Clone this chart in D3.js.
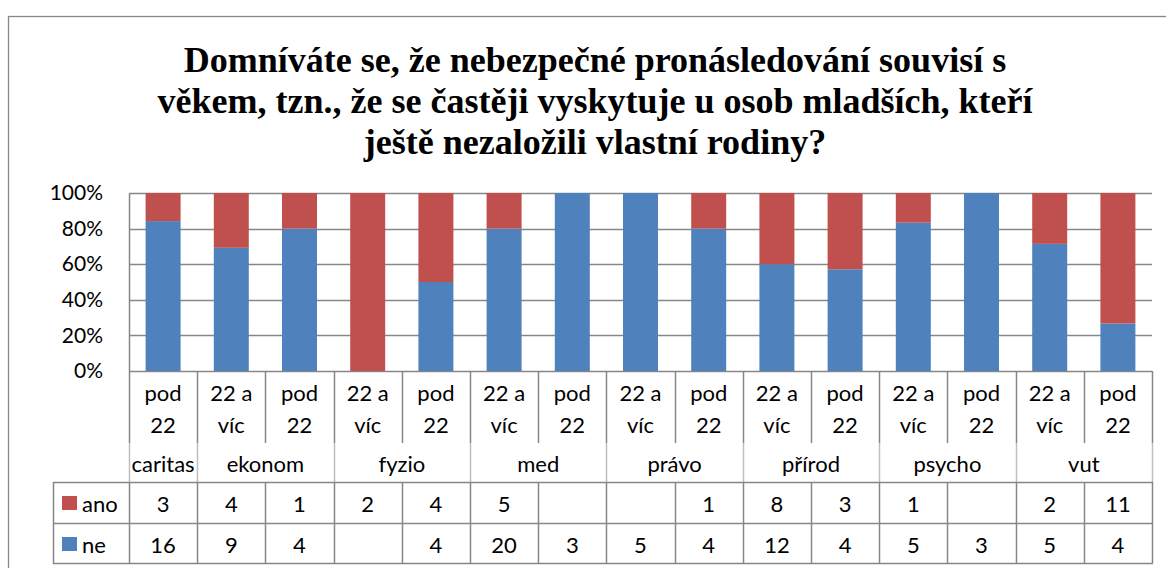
<!DOCTYPE html>
<html>
<head>
<meta charset="utf-8">
<script src="https://cdn.jsdelivr.net/npm/d3@7"></script>
<style>
  html, body { margin: 0; padding: 0; background: #fff; }
  svg { display: block; }
</style>
</head>
<body>
<svg id="chart" width="1166" height="568"></svg>
<script>
// ---- data ----
const titleLines = [
  "Domníváte se, že nebezpečné pronásledování souvisí s",
  "věkem, tzn., že se častěji vyskytuje u osob mladších, kteří",
  "ještě nezaložili vlastní rodiny?"
];
const groups = ["caritas", "ekonom", "fyzio", "med", "právo", "přírod", "psycho", "vut"];
const barGroup = ["caritas", "ekonom", "ekonom", "fyzio", "fyzio", "med", "med", "právo", "právo", "přírod", "přírod", "psycho", "psycho", "vut", "vut"];
const subLabels = ["pod 22", "22 a víc", "pod 22", "22 a víc", "pod 22", "22 a víc", "pod 22", "22 a víc", "pod 22", "22 a víc", "pod 22", "22 a víc", "pod 22", "22 a víc", "pod 22"];
const seriesNames = ["ano", "ne"];
const ano = [3, 4, 1, 2, 4, 5, null, null, 1, 8, 3, 1, null, 2, 11];
const ne  = [16, 9, 4, null, 4, 20, 3, 5, 4, 12, 4, 5, 3, 5, 4];
const yTicks = [0, 0.2, 0.4, 0.6, 0.8, 1.0];
const yTickLabels = ["0%", "20%", "40%", "60%", "80%", "100%"];
const colors = { ano: "#C0504D", ne: "#4F81BD" };

// ---- layout ----
const svg = d3.select("#chart");
const L = 129, R = 1152, T = 193, B = 371;
const gridColor = "#878787";
const lightLine = "#BFBFBF";
const fontSans = "Lato, 'Open Sans', sans-serif";

// outer border
svg.append("rect").attr("x", 8.5).attr("y", 16.5).attr("width", 1200).attr("height", 600)
  .attr("fill", "#fff").attr("stroke", gridColor).attr("stroke-width", 1.3);

// title
svg.append("g").selectAll("text").data(titleLines).join("text")
  .attr("x", 595).attr("y", (d, i) => 72 + i * 41)
  .attr("text-anchor", "middle")
  .attr("font-family", "'Liberation Serif', 'Times New Roman', serif")
  .attr("font-weight", "bold").attr("font-size", 36).attr("fill", "#000")
  .text(d => d);

const idx = d3.range(ano.length);
const x = d3.scaleBand().domain(idx).range([L, R]).paddingInner(0.487).paddingOuter(0.2435);
const step = x.step();
const y = d3.scaleLinear().domain([0, 1]).range([B, T]);

// gridlines
svg.append("g").selectAll("line").data(yTicks).join("line")
  .attr("x1", L).attr("x2", R).attr("y1", d => Math.round(y(d)) + 0.5).attr("y2", d => Math.round(y(d)) + 0.5)
  .attr("stroke", gridColor).attr("stroke-width", 1.5);

// y axis
const yAxis = d3.axisLeft(y).tickValues(yTicks).tickFormat((d, i) => yTickLabels[i]).tickSize(0).tickPadding(26);
const yg = svg.append("g").attr("transform", `translate(${L},0)`).call(yAxis);
yg.select(".domain").attr("stroke", gridColor).attr("stroke-width", 1.5);
yg.selectAll("text").attr("font-family", fontSans).attr("font-size", 21).attr("fill", "#000");

// stacked percentage bars
const rows = idx.map(i => ({ i, ne: ne[i] || 0, ano: ano[i] || 0 }));
const stack = d3.stack().keys(["ne", "ano"]).offset(d3.stackOffsetExpand);
const stacked = stack(rows);
svg.append("g").selectAll("g").data(stacked).join("g")
  .attr("fill", s => colors[s.key])
  .selectAll("rect").data(s => s).join("rect")
  .attr("x", d => x(d.data.i)).attr("width", x.bandwidth())
  .attr("y", d => y(d[1])).attr("height", d => Math.max(0, y(d[0]) - y(d[1])));

// ---- category / data table ----
const rowSubTop = B, rowSubBot = 443, rowGrpBot = 482, rowAnoBot = 523, rowNeBot = 563;
const legL = 53;
const lines = svg.append("g").attr("stroke", gridColor).attr("stroke-width", 1.5);
// boundaries
const bounds = d3.range(ano.length + 1).map(k => L + k * step);
bounds.forEach((bx, k) => {
  const isGroupEdge = k === 0 || k === ano.length || barGroup[k] !== barGroup[k - 1];
  const xx = Math.round(bx) + 0.5;
  lines.append("line").attr("x1", xx).attr("x2", xx).attr("y1", rowSubTop).attr("y2", rowSubBot);
  if (isGroupEdge) {
    lines.append("line").attr("x1", xx).attr("x2", xx).attr("y1", rowSubBot).attr("y2", rowGrpBot).attr("stroke", lightLine);
  }
  lines.append("line").attr("x1", xx).attr("x2", xx).attr("y1", rowGrpBot).attr("y2", rowNeBot);
});
[rowGrpBot, rowAnoBot, rowNeBot].forEach(yy => {
  lines.append("line").attr("x1", legL).attr("x2", R + 1).attr("y1", yy + 0.5).attr("y2", yy + 0.5);
});
lines.append("line").attr("x1", legL + 0.5).attr("x2", legL + 0.5).attr("y1", rowGrpBot).attr("y2", rowNeBot + 1);

const tg = svg.append("g").attr("font-family", fontSans).attr("font-size", 22).attr("fill", "#000")
  .attr("text-anchor", "middle").attr("dominant-baseline", "central");

// sub labels (two lines)
idx.forEach(i => {
  const parts = subLabels[i] === "pod 22" ? ["pod", "22"] : ["22 a", "víc"];
  const cx = x(i) + x.bandwidth() / 2;
  parts.forEach((p, j) => tg.append("text").attr("x", cx).attr("y", 392 + j * 32).text(p));
});

// group labels
groups.forEach(g => {
  const members = idx.filter(i => barGroup[i] === g);
  const x0 = L + members[0] * step, x1 = L + (members[members.length - 1] + 1) * step;
  tg.append("text").attr("x", (x0 + x1) / 2).attr("y", 463).text(g);
});

// data rows
const dataRows = [{ key: "ano", vals: ano, cy: 503 }, { key: "ne", vals: ne, cy: 544 }];
dataRows.forEach(r => {
  idx.forEach(i => {
    if (r.vals[i] == null) return;
    tg.append("text").attr("x", x(i) + x.bandwidth() / 2).attr("y", r.cy).text(r.vals[i]);
  });
  svg.append("rect").attr("x", 62).attr("y", r.cy - 7).attr("width", 15).attr("height", 14).attr("fill", colors[r.key]);
  svg.append("text").attr("x", 82).attr("y", r.cy).attr("dominant-baseline", "central")
    .attr("font-family", fontSans).attr("font-size", 22).attr("fill", "#000").text(r.key);
});
</script>
</body>
</html>
